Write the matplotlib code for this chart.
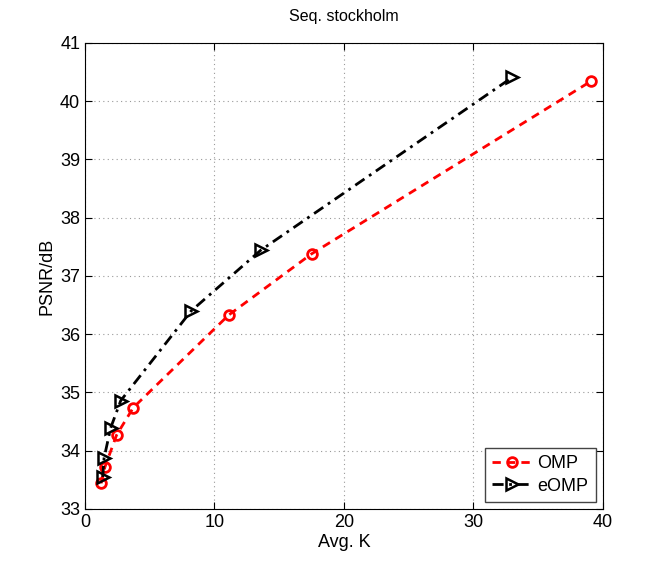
import matplotlib
matplotlib.use("Agg")
import matplotlib.pyplot as plt

plt.rcParams["font.family"] = ["Liberation Sans", "DejaVu Sans"]

# Values
omp_k = [1.24, 1.54, 2.44, 3.73, 11.1, 17.5, 39.05]
omp_psnr = [33.44, 33.72, 34.27, 34.74, 36.33, 37.38, 40.34]
eomp_k = [1.37, 1.47, 1.98, 2.76, 8.2, 13.56, 33.0]
eomp_psnr = [33.55, 33.87, 34.39, 34.86, 36.40, 37.44, 40.41]

x_ticks = [0, 10, 20, 30, 40]
y_ticks = [33, 34, 35, 36, 37, 38, 39, 40, 41]

fig = plt.figure(figsize=(6.64, 5.73), dpi=100)
ax = fig.add_axes([0.128, 0.1117, 0.78, 0.8133])

ax.plot(omp_k, omp_psnr, color="red", linestyle=(0, (3, 2.2)), linewidth=2,
        marker="o", markersize=7, markerfacecolor="none", markeredgewidth=2,
        label="OMP")
ax.plot(eomp_k, eomp_psnr, color="black", linestyle=(0, (4, 2, 1, 2)), linewidth=2,
        marker=">", markersize=8, markerfacecolor="none", markeredgewidth=1.8,
        label="eOMP")

ax.set_xlim(0, 40)
ax.set_ylim(33, 41)
ax.set_xticks(x_ticks)
ax.set_yticks(y_ticks)
ax.tick_params(direction="in", top=True, right=True, labelsize=13, length=5)
ax.grid(True, linestyle=(0, (1, 3)), color="#999999", linewidth=0.8)

ax.set_xlabel("Avg. K", fontsize=13, labelpad=2)
ax.set_ylabel("PSNR/dB", fontsize=13, labelpad=3)
ax.set_title("Seq. stockholm", fontsize=11.5, pad=16)

leg = ax.legend(loc="lower right", fontsize=13, fancybox=False, framealpha=1,
                edgecolor="#444444", handlelength=2.2, borderaxespad=0.4,
                handletextpad=0.3, labelspacing=0.3)
leg.get_frame().set_linewidth(1)

fig.savefig("out.png", dpi=100)
